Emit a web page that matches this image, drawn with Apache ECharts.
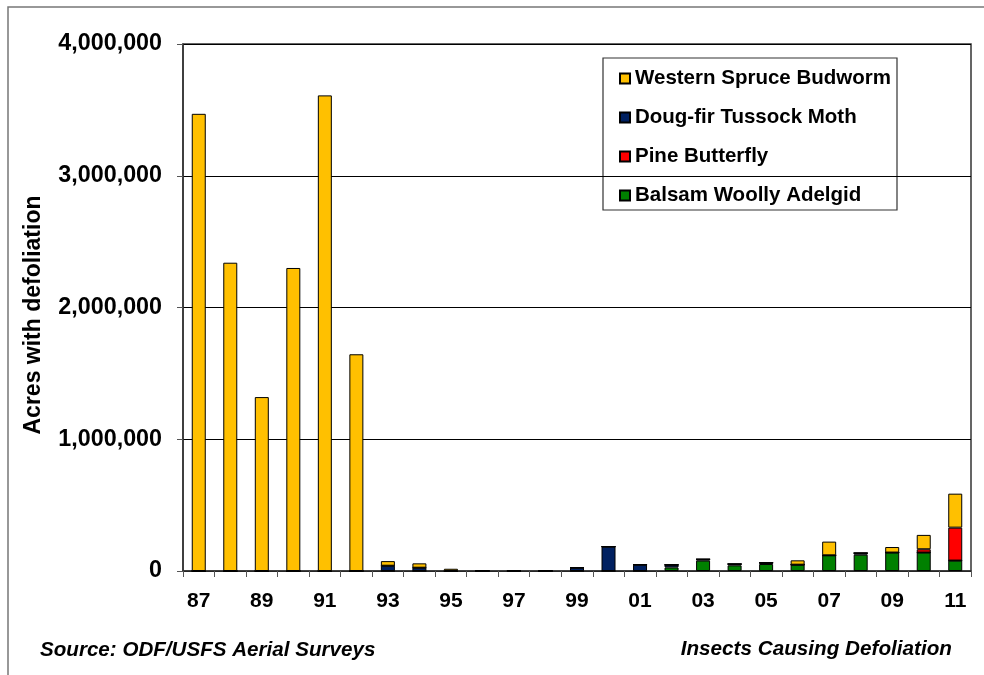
<!DOCTYPE html>
<html><head><meta charset="utf-8">
<script src="https://cdn.jsdelivr.net/npm/echarts@6/dist/echarts.min.js"></script>
<style>html,body{margin:0;padding:0;background:#fff}#c{width:984px;height:675px}</style>
</head><body><div id="c"></div>
<script>
const years = ['87','88','89','90','91','92','93','94','95','96','97','98','99','00','01','02','03','04','05','06','07','08','09','10','11'];
const westernSpruceBudworm = [3470000,2340000,1320000,2300000,3610000,1645000,35000,33000,17000,3000,1000,1000,0,0,0,0,0,0,0,33000,104000,0,42000,109000,258000];
const dougFirTussockMoth   = [0,0,0,0,0,0,40000,25000,0,0,0,0,25000,185000,48000,20000,10000,10000,10000,0,0,12000,0,0,0];
const pineButterfly        = [0,0,0,0,0,0,0,0,0,0,0,0,0,0,0,0,0,0,0,0,0,0,0,25000,250000];
const balsamWoollyAdelgid  = [0,0,0,0,0,0,0,0,0,0,0,0,0,0,0,27000,79000,43000,53000,48000,119000,124000,140000,140000,79000];
const yTicks = [0,1000000,2000000,3000000,4000000];

const FONT = '"Liberation Sans", Arial, sans-serif';
const chart = echarts.init(document.getElementById('c'), null, {renderer:'canvas'});
function mk(name, data, color){
  return {name, type:'bar', stack:'total', data, barWidth:14,
    itemStyle:{color, borderColor:'#000', borderWidth:1}, emphasis:{disabled:true}};
}
chart.setOption({
  animation:false,
  backgroundColor:'#fff',
  grid:{left:183, right:13, top:44, bottom:104, show:true, borderColor:'#333', borderWidth:1.5},
  legend:{
    orient:'vertical', left:614, top:63, itemWidth:10, itemHeight:10, itemGap:18,
    icon:'rect',
    data:['Western Spruce Budworm','Doug-fir Tussock Moth','Pine Butterfly','Balsam Woolly Adelgid'],
    textStyle:{fontFamily:FONT, fontWeight:'bold', fontSize:20.5, color:'#000', lineHeight:19}
  },
  xAxis:{type:'category', data:years,
    axisLine:{lineStyle:{color:'#333', width:1.5}},
    axisTick:{show:true, interval:0, length:6, lineStyle:{color:'#555'}},
    axisLabel:{interval:1, margin:20, fontFamily:FONT, fontWeight:'bold', fontSize:21, color:'#000'}
  },
  yAxis:{type:'value', min:yTicks[0], max:yTicks[yTicks.length-1], interval:1000000,
    axisLine:{show:true, lineStyle:{color:'#333', width:1.5}},
    axisTick:{show:true, length:6, lineStyle:{color:'#555'}},
    splitLine:{lineStyle:{color:'#000', width:1}},
    axisLabel:{margin:21, fontFamily:FONT, fontWeight:'bold', fontSize:23.3, color:'#000',
      formatter:v=>v.toLocaleString('en-US')}
  },
  graphic:[
    {type:'rect', shape:{x:8, y:7, width:1000, height:700}, style:{fill:'none', stroke:'#777', lineWidth:1.5}, silent:true},
    {type:'rect', shape:{x:603, y:58, width:294, height:152}, style:{fill:'#fff', stroke:'#333', lineWidth:1.2}, silent:true, z:-1, zlevel:0},
    {type:'text', x:34, y:315, rotation:Math.PI/2, style:{text:'Acres with defoliation', font:'bold 23px '+FONT, fill:'#000', align:'center', verticalAlign:'middle'}},
    {type:'text', x:40, y:650, style:{text:'Source: ODF/USFS Aerial Surveys', font:'italic bold 20.6px '+FONT, fill:'#000', align:'left', verticalAlign:'middle'}},
    {type:'text', x:952, y:649, style:{text:'Insects Causing Defoliation', font:'italic bold 20.7px '+FONT, fill:'#000', align:'right', verticalAlign:'middle'}}
  ],
  series:[
    mk('Balsam Woolly Adelgid', balsamWoollyAdelgid, '#008000'),
    mk('Doug-fir Tussock Moth', dougFirTussockMoth, '#002060'),
    mk('Pine Butterfly', pineButterfly, '#FF0000'),
    mk('Western Spruce Budworm', westernSpruceBudworm, '#FFC000')
  ]
});
</script></body></html>
